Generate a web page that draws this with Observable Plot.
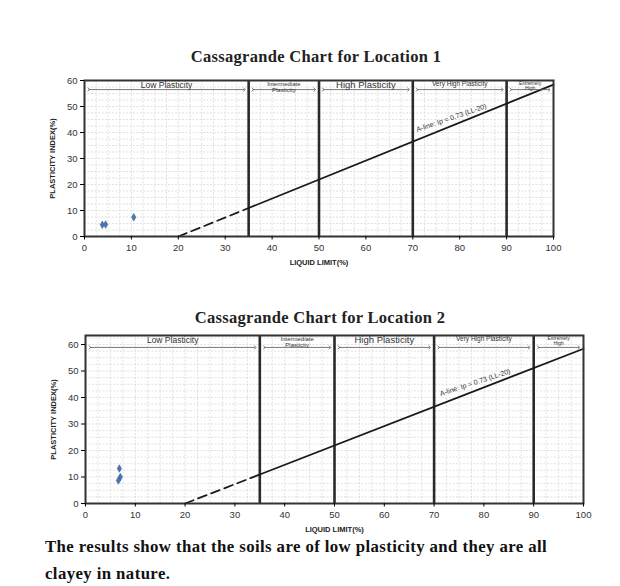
<!DOCTYPE html>
<html>
<head>
<meta charset="utf-8">
<script src="https://cdn.jsdelivr.net/npm/d3@7"></script>
<script src="https://cdn.jsdelivr.net/npm/@observablehq/plot@0.6"></script>
<style>
  html, body { margin: 0; padding: 0; background: #fff; }
  #page { position: relative; width: 620px; height: 586px; overflow: hidden; background: #fff; }
  .title { position: absolute; font-family: "Liberation Serif", "DejaVu Serif", serif; font-weight: bold; font-size: 16.5px; letter-spacing: 0.3px; color: #222; white-space: nowrap; transform: translate(-50%, -50%); }
  .chart { position: absolute; left: 0; }
  .note { position: absolute; left: 45px; font-family: "Liberation Serif", "DejaVu Serif", serif; font-weight: bold; font-size: 16.8px; letter-spacing: 0.4px; color: #111; white-space: nowrap; }
</style>
</head>
<body>
<div id="page">
  <div class="title" style="left:316px; top:57px;">Cassagrande Chart for Location 1</div>
  <div id="chart1" class="chart" style="top:70px;"></div>
  <div class="title" style="left:320px; top:318px;">Cassagrande Chart for Location 2</div>
  <div id="chart2" class="chart" style="top:325px;"></div>
  <div class="note" style="top:537px;">The results show that the soils are of low plasticity and they are all</div>
  <div class="note" style="top:564px;">clayey in nature.</div>
</div>
<script>
// ---- Data ----
const xTicks = [0, 10, 20, 30, 40, 50, 60, 70, 80, 90, 100];
const yTicks = [0, 10, 20, 30, 40, 50, 60];
const boundaries = [35, 50, 70, 90];
const bandStart = [0, 35, 50, 70, 90];
const bandEnd = [35, 50, 70, 90, 100];
const bandNames = ["Low Plasticity", "Intermediate\nPlasticity", "High Plasticity", "Very High Plasticity", "Extremely\nHigh"];
const aLineDashLL = [20, 35];
const aLineDashPI = [0, 10.95];
const aLineSolidLL = [35, 100];
const aLineSolidPI = [10.95, 58.4];
const aLineText = "A-line: Ip = 0.73 (LL-20)";
const loc1LL = [3.8, 4.5, 10.5];
const loc1PI = [4.5, 4.6, 7.4];
const loc2LL = [6.8, 7.0, 6.6];
const loc2PI = [13.2, 10.0, 8.7];

// ---- Styles ----
const bandFontSize = [8.5, 6, 9.5, 6.5, 5];

function makeChart(cfg) {
  const {ll, pi, yMax, width, height, mLeft, mRight, mTop, mBottom, arrowY, aLabelLL, aLabelPI} = cfg;
  const innerW = width - mLeft - mRight;
  const innerH = height - mTop - mBottom;
  const angle = -Math.atan(0.73 * (innerH / yMax) / (innerW / 100)) * 180 / Math.PI + 3;
  const gridX = d3.range(0, 100.01, 2.5);
  const gridY = d3.range(0, yMax, 2.5);
  const pts = ll.map((v, i) => ({ll: v, pi: pi[i]}));
  const bands = bandNames.map((n, i) => ({name: n, x0: bandStart[i], x1: bandEnd[i], fs: bandFontSize[i]}));
  const dash = aLineDashLL.map((v, i) => ({ll: v, pi: aLineDashPI[i]}));
  const solid = aLineSolidLL.map((v, i) => ({ll: v, pi: aLineSolidPI[i]}));
  const font = "Liberation Sans, Arial, sans-serif";
  const marks = [
    Plot.ruleX(gridX, {stroke: "#d4d4d4", strokeWidth: 0.7, strokeDasharray: "2,1.5"}),
    Plot.ruleY(gridY, {stroke: "#d4d4d4", strokeWidth: 0.7, strokeDasharray: "2,1.5"}),
    Plot.ruleX(boundaries, {stroke: "#2a2a2a", strokeWidth: 2.6}),
    Plot.line(dash, {x: "ll", y: "pi", stroke: "#1a1a1a", strokeWidth: 1.8, strokeDasharray: "9,5"}),
    Plot.line(solid, {x: "ll", y: "pi", stroke: "#1a1a1a", strokeWidth: 1.8}),
    Plot.text([aLineText], {x: () => aLabelLL, y: () => aLabelPI, text: d => d, rotate: angle, textAnchor: "start", fontSize: 7, fill: "#333", fontFamily: font}),
    Plot.link(bands, {x1: d => d.x0 + 0.9, x2: d => d.x1 - 0.9, y1: () => arrowY, y2: () => arrowY, stroke: "#555", strokeWidth: 0.8, markerStart: "arrow", markerEnd: "arrow"}),
    Plot.text(bands, {x: d => (d.x0 + d.x1) / 2, y: () => yMax, text: "name", fontSize: d => d.fs, lineAnchor: "top", dy: 1.5, lineHeight: 0.95, fill: "#333", fontFamily: font}),
    Plot.dot(pts, {x: "ll", y: "pi", symbol: "diamond", r: 2.3, fill: "#4a78b5", stroke: "#36598a", strokeWidth: 0.5}),
    Plot.frame({stroke: "#333", strokeWidth: 2}),
    Plot.axisX(xTicks, {tickSize: 3.5, tickPadding: 4, fontSize: 9.5, label: null, fill: "#333", fontFamily: font}),
    Plot.axisY(yTicks, {tickSize: 4, tickPadding: 3, fontSize: 9.5, label: null, fill: "#333", fontFamily: font}),
    Plot.text(["LIQUID LIMIT(%)"], {frameAnchor: "bottom", dy: 28, text: d => d, fontSize: 7.5, fontWeight: "bold", fill: "#222", fontFamily: font}),
    Plot.text(["PLASTICITY INDEX(%)"], {frameAnchor: "left", dx: -32, rotate: -90, textAnchor: "middle", text: d => d, fontSize: 7.5, fontWeight: "bold", fill: "#222", fontFamily: font})
  ];
  return Plot.plot({
    width, height,
    marginLeft: mLeft, marginRight: mRight, marginTop: mTop, marginBottom: mBottom,
    x: {domain: [0, 100]},
    y: {domain: [0, yMax]},
    style: {background: "transparent", overflow: "visible"},
    marks
  });
}

document.getElementById("chart1").appendChild(makeChart({
  ll: loc1LL, pi: loc1PI, yMax: 60, width: 600, height: 202,
  mLeft: 84, mRight: 47, mTop: 10, mBottom: 36, arrowY: 56.5, aLabelLL: 70.8, aLabelPI: 41
}));
document.getElementById("chart2").appendChild(makeChart({
  ll: loc2LL, pi: loc2PI, yMax: 63.4, width: 600, height: 210,
  mLeft: 85, mRight: 17, mTop: 10, mBottom: 32, arrowY: 58.9, aLabelLL: 71.2, aLabelPI: 41.3
}));
</script>
</body>
</html>
